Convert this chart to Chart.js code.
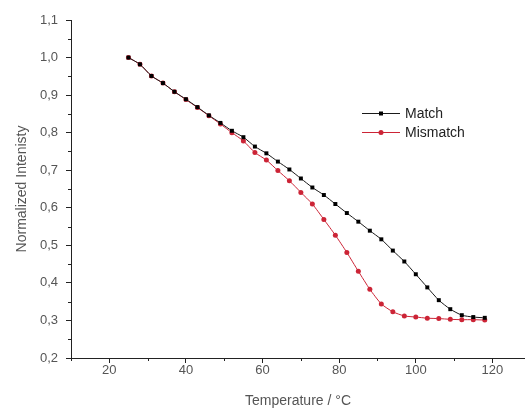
<!DOCTYPE html>
<html>
<head>
<meta charset="utf-8">
<script src="https://cdn.jsdelivr.net/npm/chart.js@4"></script>
<style>
    html, body { margin: 0; padding: 0; background: #fff; overflow: hidden; }
    #wrap { width: 529px; height: 410px; }
</style>
</head>
<body>
<div id="wrap"><canvas id="meltChart"></canvas></div>
<script>
// Temperatures (°C), one reading every 3 degrees
const temperatures = [25, 28, 31, 34, 37, 40, 43, 46, 49, 52, 55, 58, 61, 64, 67, 70,
    73, 76, 79, 82, 85, 88, 91, 94, 97, 100, 103, 106, 109, 112, 115, 118];

const matchValues = [1.000, 0.982, 0.951, 0.932, 0.909, 0.889, 0.868, 0.846, 0.826, 0.805,
    0.788, 0.763, 0.745, 0.723, 0.702, 0.678, 0.654, 0.634, 0.610, 0.586,
    0.563, 0.539, 0.516, 0.486, 0.457, 0.423, 0.388, 0.354, 0.330, 0.314, 0.309, 0.307];

const mismatchValues = [1.000, 0.982, 0.951, 0.932, 0.909, 0.888, 0.867, 0.845, 0.823, 0.800,
    0.778, 0.747, 0.727, 0.699, 0.672, 0.641, 0.610, 0.569, 0.527, 0.481,
    0.431, 0.383, 0.344, 0.323, 0.312, 0.309, 0.306, 0.305, 0.303, 0.302, 0.302, 0.301];

const xTicks = [20, 40, 60, 80, 100, 120];
const xMinorTicks = [10, 30, 50, 70, 90, 110];
const yTicks = [0.2, 0.3, 0.4, 0.5, 0.6, 0.7, 0.8, 0.9, 1.0, 1.1];
const yMinorTicks = [0.25, 0.35, 0.45, 0.55, 0.65, 0.75, 0.85, 0.95, 1.05];

const textColor = "#555";
const redColor = "#cc2436";
const fontFamily = "'Liberation Sans', Arial, sans-serif";

// minor tick marks and the legend (line + marker, inside the plot)
const extrasPlugin = {
    id: "extras",
    afterDraw(chart) {
        const ctx = chart.ctx;
        const xs = chart.scales.x;
        const ys = chart.scales.y;
        ctx.save();
        ctx.strokeStyle = "#222";
        ctx.lineWidth = 1;
        ctx.beginPath();
        xMinorTicks.forEach(v => {
            const px = Math.round(xs.getPixelForValue(v)) + 0.5;
            ctx.moveTo(px, ys.bottom);
            ctx.lineTo(px, ys.bottom + 3);
        });
        yMinorTicks.forEach(v => {
            const py = Math.round(ys.getPixelForValue(v)) + 0.5;
            ctx.moveTo(xs.left, py);
            ctx.lineTo(xs.left - 3, py);
        });
        ctx.stroke();

        ctx.font = "14px " + fontFamily;
        ctx.textBaseline = "middle";
        chart.data.datasets.forEach((ds, i) => {
            const y = 113 + i * 19;
            ctx.strokeStyle = ds.borderColor;
            ctx.beginPath();
            ctx.moveTo(362, y + 0.5);
            ctx.lineTo(400, y + 0.5);
            ctx.stroke();
            ctx.fillStyle = ds.pointBackgroundColor;
            if (ds.pointStyle === "rect") {
                ctx.fillRect(379, y - 1.5, 4, 4);
            } else {
                ctx.beginPath();
                ctx.arc(381, y + 0.5, 2.5, 0, Math.PI * 2);
                ctx.fill();
            }
            ctx.fillStyle = "#222";
            ctx.fillText(ds.label, 405, y + 1);
        });
        ctx.restore();
    }
};

const ctx = document.getElementById("meltChart");

new Chart(ctx, {
    type: "line",
    data: {
        datasets: [{
            label: "Match",
            data: temperatures.map((t, i) => ({ x: t, y: matchValues[i] })),
            borderColor: "#1a1a1a",
            backgroundColor: "#000",
            pointBackgroundColor: "#000",
            pointBorderColor: "#000",
            pointStyle: "rect",
            pointRadius: 2.8,
            pointBorderWidth: 0,
            borderWidth: 1,
            tension: 0.2
        }, {
            label: "Mismatch",
            data: temperatures.map((t, i) => ({ x: t, y: mismatchValues[i] })),
            borderColor: redColor,
            backgroundColor: redColor,
            pointBackgroundColor: redColor,
            pointBorderColor: redColor,
            pointStyle: "circle",
            pointRadius: 2.5,
            pointBorderWidth: 0,
            borderWidth: 1,
            tension: 0.2
        }]
    },
    options: {
        responsive: true,
        maintainAspectRatio: false,
        animation: false,
        layout: { padding: { top: 20, right: 0, left: 14, bottom: 0 } },
        plugins: {
            legend: { display: false },
            tooltip: { enabled: false }
        },
        scales: {
            x: {
                type: "linear",
                min: 10,
                max: 128.5,
                afterBuildTicks: s => { s.ticks = xTicks.map(v => ({ value: v })); },
                afterFit: s => { s.height = 52; s.paddingLeft = 0; s.paddingRight = 0; },
                grid: { drawOnChartArea: false, tickLength: 5, color: "#222" },
                border: { color: "#222", width: 1 },
                ticks: {
                    color: textColor,
                    font: { family: fontFamily, size: 13 },
                    padding: 0,
                    maxRotation: 0,
                    callback: v => String(v)
                },
                title: {
                    display: true,
                    text: "Temperature / °C",
                    color: textColor,
                    font: { family: fontFamily, size: 14 },
                    padding: { top: 3, bottom: 0 }
                }
            },
            y: {
                type: "linear",
                min: 0.2,
                max: 1.1,
                afterBuildTicks: s => { s.ticks = yTicks.map(v => ({ value: v })); },
                afterFit: s => { s.width = 57; },
                grid: { drawOnChartArea: false, tickLength: 5, color: "#222" },
                border: { color: "#222", width: 1 },
                ticks: {
                    color: textColor,
                    font: { family: fontFamily, size: 13 },
                    padding: 8,
                    callback: v => v.toFixed(1).replace(".", ",")
                },
                title: {
                    display: true,
                    text: "Normalized Intenisty",
                    color: textColor,
                    font: { family: fontFamily, size: 14 },
                    padding: { top: 0, bottom: 0 }
                }
            }
        }
    },
    plugins: [extrasPlugin]
});
</script>
</body>
</html>
